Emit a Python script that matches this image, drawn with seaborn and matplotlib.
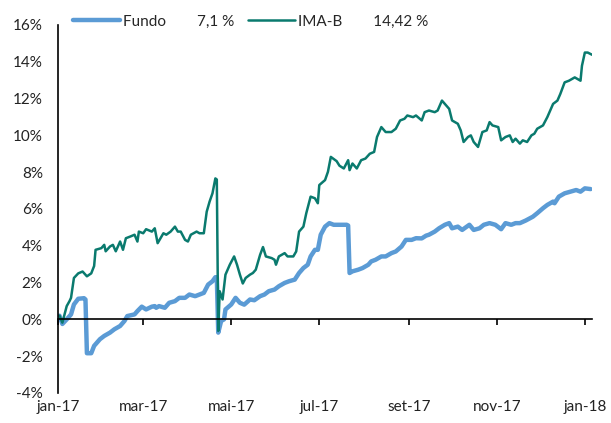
import pandas as pd
import numpy as np
import matplotlib
matplotlib.use("Agg")
import matplotlib.pyplot as plt
import seaborn as sns

# Fundo - cumulative return (%)
fundo_dates = [
    "2017-01-02", "2017-01-04", "2017-01-07", "2017-01-10", "2017-01-12", "2017-01-15",
    "2017-01-19", "2017-01-20", "2017-01-21", "2017-01-24", "2017-01-26", "2017-01-30",
    "2017-02-02", "2017-02-06", "2017-02-09", "2017-02-13", "2017-02-16", "2017-02-18",
    "2017-02-23", "2017-02-25", "2017-02-28", "2017-03-03", "2017-03-07", "2017-03-09",
    "2017-03-10", "2017-03-12", "2017-03-16", "2017-03-19", "2017-03-23", "2017-03-26",
    "2017-03-30", "2017-04-02", "2017-04-06", "2017-04-09", "2017-04-12", "2017-04-15",
    "2017-04-18", "2017-04-20", "2017-04-21", "2017-04-22", "2017-04-24", "2017-04-26",
    "2017-04-27", "2017-05-01", "2017-05-04", "2017-05-07", "2017-05-10", "2017-05-14",
    "2017-05-17", "2017-05-21", "2017-05-24", "2017-05-27", "2017-05-31", "2017-06-03",
    "2017-06-07", "2017-06-10", "2017-06-14", "2017-06-17", "2017-06-20", "2017-06-23",
    "2017-06-25", "2017-06-28", "2017-06-30", "2017-07-02", "2017-07-05", "2017-07-08",
    "2017-07-11", "2017-07-15", "2017-07-20", "2017-07-21", "2017-07-22", "2017-07-24",
    "2017-07-28", "2017-07-31", "2017-08-04", "2017-08-06", "2017-08-09", "2017-08-13",
    "2017-08-16", "2017-08-20", "2017-08-23", "2017-08-27", "2017-08-30", "2017-09-03",
    "2017-09-06", "2017-09-10", "2017-09-13", "2017-09-15", "2017-09-19", "2017-09-22",
    "2017-09-26", "2017-09-29", "2017-10-01", "2017-10-05", "2017-10-08", "2017-10-13",
    "2017-10-16", "2017-10-20", "2017-10-23", "2017-10-27", "2017-10-31", "2017-11-04",
    "2017-11-07", "2017-11-11", "2017-11-14", "2017-11-17", "2017-11-21", "2017-11-26",
    "2017-11-29", "2017-12-03", "2017-12-06", "2017-12-10", "2017-12-11", "2017-12-14",
    "2017-12-18", "2017-12-22", "2017-12-26", "2017-12-29", "2018-01-01", "2018-01-05",
]
fundo_vals = [
    0.2, -0.25, 0.0, 0.27, 0.81, 1.12,
    1.15, 1.08, -1.84, -1.84, -1.44, -1.08,
    -0.9, -0.72, -0.54, -0.36, -0.09, 0.18,
    0.27, 0.45, 0.69, 0.54, 0.69, 0.72,
    0.63, 0.72, 0.63, 0.9, 0.99, 1.17,
    1.17, 1.35, 1.26, 1.35, 1.44, 1.89,
    2.07, 2.29, 2.29, -0.72, -0.09, 0.0,
    0.54, 0.81, 1.17, 0.9, 0.8, 1.08,
    1.04, 1.26, 1.35, 1.53, 1.62, 1.8,
    1.98, 2.07, 2.16, 2.52, 2.79, 2.97,
    3.42, 3.78, 3.78, 4.6, 5.04, 5.23,
    5.14, 5.14, 5.14, 5.1, 2.52, 2.61,
    2.7, 2.79, 2.97, 3.15, 3.24, 3.42,
    3.42, 3.6, 3.69, 3.96, 4.32, 4.32,
    4.41, 4.4, 4.55, 4.6, 4.77, 4.95,
    5.14, 5.23, 4.95, 5.04, 4.86, 5.14,
    4.86, 4.95, 5.14, 5.23, 5.14, 4.9,
    5.23, 5.14, 5.23, 5.23, 5.37, 5.58,
    5.77, 6.04, 6.22, 6.4, 6.31, 6.67,
    6.85, 6.94, 7.03, 6.94, 7.12, 7.08,
]

# IMA-B - cumulative return (%)
imab_dates = [
    "2017-01-02", "2017-01-04", "2017-01-07", "2017-01-09", "2017-01-10", "2017-01-12",
    "2017-01-15", "2017-01-18", "2017-01-21", "2017-01-24", "2017-01-26", "2017-01-27",
    "2017-01-31", "2017-02-02", "2017-02-03", "2017-02-06", "2017-02-08", "2017-02-10",
    "2017-02-13", "2017-02-15", "2017-02-17", "2017-02-20", "2017-02-23", "2017-02-25",
    "2017-02-26", "2017-03-01", "2017-03-03", "2017-03-07", "2017-03-09", "2017-03-11",
    "2017-03-15", "2017-03-17", "2017-03-20", "2017-03-23", "2017-03-25", "2017-03-27",
    "2017-03-30", "2017-04-01", "2017-04-03", "2017-04-07", "2017-04-09", "2017-04-12",
    "2017-04-14", "2017-04-16", "2017-04-18", "2017-04-20", "2017-04-21", "2017-04-22",
    "2017-04-23", "2017-04-25", "2017-04-27", "2017-04-30", "2017-05-03", "2017-05-05",
    "2017-05-07", "2017-05-09", "2017-05-11", "2017-05-14", "2017-05-16", "2017-05-18",
    "2017-05-21", "2017-05-23", "2017-05-25", "2017-05-29", "2017-05-31", "2017-06-01",
    "2017-06-03", "2017-06-07", "2017-06-09", "2017-06-13", "2017-06-15", "2017-06-17",
    "2017-06-20", "2017-06-22", "2017-06-25", "2017-06-28", "2017-06-30", "2017-07-01",
    "2017-07-05", "2017-07-07", "2017-07-09", "2017-07-13", "2017-07-15", "2017-07-18",
    "2017-07-21", "2017-07-22", "2017-07-24", "2017-07-27", "2017-07-30", "2017-08-02",
    "2017-08-05", "2017-08-08", "2017-08-10", "2017-08-13", "2017-08-16", "2017-08-20",
    "2017-08-23", "2017-08-26", "2017-08-29", "2017-08-31", "2017-09-04", "2017-09-06",
    "2017-09-10", "2017-09-12", "2017-09-15", "2017-09-19", "2017-09-21", "2017-09-24",
    "2017-09-27", "2017-09-29", "2017-10-01", "2017-10-05", "2017-10-07", "2017-10-09",
    "2017-10-12", "2017-10-14", "2017-10-16", "2017-10-19", "2017-10-22", "2017-10-25",
    "2017-10-27", "2017-10-29", "2017-11-02", "2017-11-04", "2017-11-07", "2017-11-10",
    "2017-11-12", "2017-11-14", "2017-11-17", "2017-11-19", "2017-11-22", "2017-11-25",
    "2017-11-27", "2017-11-29", "2017-12-03", "2017-12-06", "2017-12-10", "2017-12-13",
    "2017-12-15", "2017-12-18", "2017-12-21", "2017-12-25", "2017-12-27", "2017-12-29",
    "2017-12-30", "2018-01-01", "2018-01-03", "2018-01-06",
]
imab_vals = [
    0.2, -0.18, 0.72, 1.0, 1.17, 2.25,
    2.5, 2.6, 2.34, 2.5, 2.9, 3.78,
    3.87, 4.05, 3.7, 3.96, 4.05, 3.7,
    4.23, 3.78, 4.41, 4.5, 4.6, 4.23,
    4.77, 4.68, 4.9, 4.77, 4.95, 4.14,
    4.68, 4.6, 4.77, 5.04, 4.77, 4.77,
    4.32, 4.23, 4.6, 4.77, 4.68, 4.68,
    5.85, 6.4, 6.85, 7.66, 7.6, -0.63,
    1.53, 1.08, 2.43, 2.97, 3.42, 2.97,
    2.43, 1.95, 2.25, 2.43, 2.52, 2.7,
    3.51, 3.93, 3.42, 3.33, 3.24, 2.97,
    3.42, 3.6, 3.42, 3.42, 3.69, 4.77,
    5.04, 5.77, 6.67, 6.58, 6.31, 7.3,
    7.57, 8.02, 8.83, 8.6, 8.35, 8.2,
    8.65, 8.11, 8.47, 8.2, 8.65, 8.74,
    9.0, 9.1, 9.91, 10.45, 10.18, 10.18,
    10.36, 10.81, 10.9, 11.08, 10.99, 11.08,
    10.81, 11.26, 11.35, 11.26, 11.35, 11.89,
    11.62, 11.44, 10.81, 10.63, 10.27, 9.64,
    9.91, 10.0, 9.64, 9.37, 10.18, 10.27,
    10.72, 10.54, 10.45, 9.73, 9.91, 10.0,
    9.64, 9.82, 9.55, 9.73, 9.64, 10.0,
    10.09, 10.36, 10.54, 10.99, 11.71, 11.89,
    12.25, 12.88, 12.97, 13.15, 13.06, 12.97,
    13.78, 14.5, 14.5, 14.38,
]

tick_dates = ["2017-01-01", "2017-03-01", "2017-05-01", "2017-07-01",
              "2017-09-01", "2017-11-01", "2018-01-01"]
tick_labels = ["jan-17", "mar-17", "mai-17", "jul-17", "set-17", "nov-17", "jan-18"]
y_ticks = [-4, -2, 0, 2, 4, 6, 8, 10, 12, 14, 16]

fundo_df = pd.DataFrame({"date": pd.to_datetime(fundo_dates), "ret": fundo_vals})
imab_df = pd.DataFrame({"date": pd.to_datetime(imab_dates), "ret": imab_vals})

sns.set_theme(style="white")
plt.rcParams["font.family"] = ["Lato", "DejaVu Sans"]

fig = plt.figure(figsize=(6.11, 4.23), dpi=100)
ax = fig.add_axes([0.095, 0.071, 0.874, 0.870])

sns.lineplot(data=fundo_df, x="date", y="ret", ax=ax, color="#5B9BD5",
             linewidth=3.2, label="Fundo        7,1 %")
sns.lineplot(data=imab_df, x="date", y="ret", ax=ax, color="#0A7A6E",
             linewidth=1.8, label="IMA-B        14,42 %")

ax.set_ylim(-4, 16)
ax.set_yticks(y_ticks)
ax.set_yticklabels([f"{t}%" for t in y_ticks])
ax.set_xlim(pd.Timestamp("2017-01-01"), pd.Timestamp("2018-01-06"))
ax.set_xticks(pd.to_datetime(tick_dates))
ax.set_xticklabels(tick_labels)

ax.spines["top"].set_visible(False)
ax.spines["right"].set_visible(False)
ax.spines["left"].set_color("black")
ax.spines["left"].set_linewidth(1.2)
ax.spines["bottom"].set_position(("data", 0))
ax.spines["bottom"].set_color("black")
ax.spines["bottom"].set_linewidth(1.2)

ax.tick_params(axis="y", length=0, pad=11, labelsize=11, colors="#222222")
ax.tick_params(axis="x", direction="out", length=4, width=1.2, color="black",
               bottom=True, pad=54, labelsize=11, labelcolor="#222222")
ax.set_xlabel("")
ax.set_ylabel("")

ax.legend(loc="center left", bbox_to_anchor=(73 / 611, 1 - 21.7 / 423),
          bbox_transform=fig.transFigure, ncol=2, frameon=False,
          fontsize=11, handlelength=3.1, handletextpad=0.2, columnspacing=0.85,
          borderpad=0, borderaxespad=0)

fig.savefig("out.png", dpi=100)
